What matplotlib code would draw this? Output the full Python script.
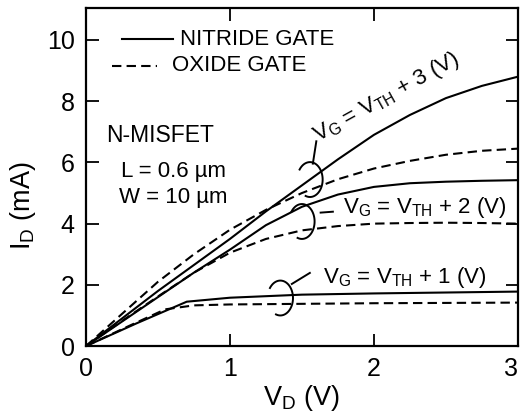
import numpy as np
import matplotlib
matplotlib.use("Agg")
import matplotlib.pyplot as plt
from matplotlib.transforms import ScaledTranslation

plt.rcParams['font.family'] = ['Liberation Sans', 'DejaVu Sans']
plt.rcParams['mathtext.fontset'] = 'custom'
plt.rcParams['mathtext.rm'] = 'Liberation Sans'
plt.rcParams['mathtext.it'] = 'Liberation Sans'

# ---- data (V_D in V, I_D in mA) ----
vd = [0, 0.25, 0.5, 0.75, 1.0, 1.25, 1.5, 1.75, 2.0, 2.25, 2.5, 2.75, 3.0]
nitride_3 = [0, 0.9, 1.8, 2.65, 3.5, 4.4, 5.25, 6.1, 6.9, 7.55, 8.1, 8.5, 8.8]
oxide_3 = [0, 1.05, 2.1, 3.0, 3.8, 4.45, 5.0, 5.45, 5.8, 6.05, 6.25, 6.38, 6.45]
nitride_2 = [0, 0.8, 1.6, 2.4, 3.15, 3.95, 4.55, 4.95, 5.2, 5.32, 5.37, 5.4, 5.42]
oxide_2 = [0, 0.82, 1.62, 2.4, 3.05, 3.5, 3.78, 3.92, 4.0, 4.02, 4.03, 4.02, 4.0]

vd_n1 = [0, 0.35, 0.7, 1.0, 1.5, 2.0, 2.5, 3.0]
nitride_1 = [0, 0.74, 1.45, 1.58, 1.68, 1.72, 1.75, 1.78]
vd_o1 = [0, 0.3, 0.55, 0.75, 1.0, 1.5, 2.0, 2.5, 3.0]
oxide_1 = [0, 0.66, 1.2, 1.33, 1.36, 1.38, 1.40, 1.41, 1.42]

xticks = [0, 1, 2, 3]
yticks = [0, 2, 4, 6, 8, 10]

LW = 1.5
DASH = (0, (4.5, 2.5))
FS = 16

fig = plt.figure(figsize=(5.21, 4.12), dpi=100)
ax = fig.add_axes([0.165, 0.160, 0.829, 0.821])

for y in (nitride_3, nitride_2):
    ax.plot(vd, y, color='black', lw=LW)
for y in (oxide_3, oxide_2):
    ax.plot(vd, y, color='black', lw=LW, linestyle=DASH)
ax.plot(vd_n1, nitride_1, color='black', lw=LW)
ax.plot(vd_o1, oxide_1, color='black', lw=LW, linestyle=DASH)

ax.set_xlim(0, 3)
ax.set_ylim(0, 11.05)
ax.set_xticks(xticks)
ax.set_yticks(yticks)
ax.tick_params(direction='in', length=9, width=1.3, labelsize=18,
               top=True, right=True, pad=8)
for s in ax.spines.values():
    s.set_linewidth(1.6)

# last x label sits inside the figure edge in the original
lab3 = ax.get_xticklabels()[-1]
lab3.set_transform(lab3.get_transform() + ScaledTranslation(-7 / 100, 0, fig.dpi_scale_trans))

ax.set_xlabel(r'V$_\mathrm{D}$ (V)', fontsize=19.5, labelpad=1)
ax.set_ylabel(r'I$_\mathrm{D}$ (mA)', fontsize=19.5)
ax.yaxis.set_label_coords(-0.112, 0.415)

# legend drawn by hand, as in the original figure
ax.plot([0.25, 0.604], [10.03, 10.03], color='black', lw=LW)
ax.text(0.653, 10.03, 'NITRIDE GATE', fontsize=FS, va='center', ha='left')
ax.plot([0.18, 0.49], [9.15, 9.15], color='black', lw=LW, linestyle=DASH)
ax.text(0.597, 9.15, 'OXIDE GATE', fontsize=FS, va='center', ha='left')

ax.text(0.514, 6.89, 'N-MISFET', fontsize=16.5, ha='center', va='center')
ax.text(0.611, 5.70, 'L = 0.6 µm', fontsize=FS, ha='center', va='center')
ax.text(0.604, 4.85, 'W = 10 µm', fontsize=FS, ha='center', va='center')


def bracket(cx, cy, lead):
    # little ")" hook grouping a nitride / oxide pair
    t = np.radians(np.linspace(145, -110, 60))
    rx, ry = 0.088, 0.57
    ax.plot(cx + rx * np.cos(t), cy + ry * np.sin(t), color='black', lw=1.4)
    ax.plot(lead[0], lead[1], color='black', lw=1.4)


bracket(1.556, 5.44, ([1.576, 1.60], [5.96, 6.69]))
bracket(1.50, 4.07, ([1.63, 1.715], [4.36, 4.39]))
bracket(1.35, 1.57, ([1.43, 1.555], [2.03, 2.39]))

ax.text(1.61, 6.66, r'V$_\mathrm{G}$ = V$_\mathrm{TH}$ + 3 (V)', fontsize=FS,
        rotation=29, rotation_mode='anchor', ha='left', va='baseline')
ax.text(1.785, 4.52, r'V$_\mathrm{G}$ = V$_\mathrm{TH}$ + 2 (V)', fontsize=FS,
        ha='left', va='center')
ax.text(1.646, 2.23, r'V$_\mathrm{G}$ = V$_\mathrm{TH}$ + 1 (V)', fontsize=FS,
        ha='left', va='center')

fig.savefig('out.png', dpi=100)
